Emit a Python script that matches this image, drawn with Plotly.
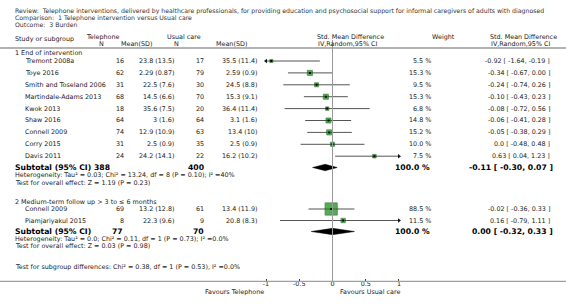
import plotly.graph_objects as go
import math

W, H = 566, 305
FONT = "DejaVu Sans"

# ---------------- data ----------------
g1_label = "1 End of intervention"
g1_studies = ["Tremont 2008a", "Toye 2016", "Smith and Toseland 2006", "Martindale-Adams 2013",
              "Kwok 2013", "Shaw 2016", "Connell 2009", "Corry 2015", "Davis 2011"]
g1_tel_n = [16, 62, 31, 68, 18, 64, 74, 31, 24]
g1_tel_msd = ["23.8 (13.5)", "2.29 (0.87)", "22.5 (7.6)", "14.5 (6.6)", "35.6 (7.5)",
              "3 (1.6)", "12.9 (10.9)", "2.5 (0.9)", "24.2 (14.1)"]
g1_uc_n = [17, 79, 30, 70, 20, 64, 63, 35, 22]
g1_uc_msd = ["35.5 (11.4)", "2.59 (0.9)", "24.5 (8.8)", "15.3 (9.1)", "36.4 (11.4)",
             "3.1 (1.6)", "13.4 (10)", "2.5 (0.9)", "16.2 (10.2)"]
g1_weight = [5.5, 15.3, 9.5, 15.3, 6.8, 14.8, 15.2, 10.0, 7.5]
g1_est = [-0.92, -0.34, -0.24, -0.10, -0.08, -0.06, -0.05, 0.0, 0.63]
g1_lo = [-1.64, -0.67, -0.74, -0.43, -0.72, -0.41, -0.38, -0.48, 0.04]
g1_hi = [-0.19, 0.00, 0.26, 0.23, 0.56, 0.28, 0.29, 0.48, 1.23]
g1_ci_text = ["-0.92 [ -1.64, -0.19 ]", "-0.34 [ -0.67, 0.00 ]", "-0.24 [ -0.74, 0.26 ]",
              "-0.10 [ -0.43, 0.23 ]", "-0.08 [ -0.72, 0.56 ]", "-0.06 [ -0.41, 0.28 ]",
              "-0.05 [ -0.38, 0.29 ]", "0.0 [ -0.48, 0.48 ]", "0.63 [ 0.04, 1.23 ]"]
g1_sub = dict(tel_n=388, uc_n=400, est=-0.11, lo=-0.30, hi=0.07,
              ci_text="-0.11 [ -0.30, 0.07 ]")
g1_het = "Heterogeneity: Tau² = 0.03; Chi² = 13.24, df = 8 (P = 0.10); I² =40%"
g1_overall = "Test for overall effect: Z = 1.19 (P = 0.23)"

g2_label = "2 Medium-term follow up > 3 to ≤ 6 months"
g2_studies = ["Connell 2009", "Piamjariyakul 2015"]
g2_tel_n = [69, 8]
g2_tel_msd = ["13.2 (12.8)", "22.3 (9.6)"]
g2_uc_n = [61, 9]
g2_uc_msd = ["13.4 (11.9)", "20.8 (8.3)"]
g2_weight = [88.5, 11.5]
g2_est = [-0.02, 0.16]
g2_lo = [-0.36, -0.79]
g2_hi = [0.33, 1.11]
g2_ci_text = ["-0.02 [ -0.36, 0.33 ]", "0.16 [ -0.79, 1.11 ]"]
g2_sub = dict(tel_n=77, uc_n=70, est=0.00, lo=-0.32, hi=0.33,
              ci_text="0.00 [ -0.32, 0.33 ]")
g2_het = "Heterogeneity: Tau² = 0.0; Chi² = 0.11, df = 1 (P = 0.73); I² =0.0%"
g2_overall = "Test for overall effect: Z = 0.03 (P = 0.98)"

subgroup_diff = "Test for subgroup differences: Chi² = 0.38, df = 1 (P = 0.53), I² =0.0%"

title_lines = [
    "Review:  Telephone interventions, delivered by healthcare professionals, for providing education and psychosocial support for informal caregivers of adults with diagnosed",
    "Comparison:  1 Telephone intervention versus Usual care",
    "Outcome:  3 Burden",
]
tick_vals = [-1, -0.5, 0, 0.5, 1]
tick_text = ["-1", "-0.5", "0", "0.5", "1"]
favours_left = "Favours Telephone"
favours_right = "Favours Usual care"

# ---------------- layout geometry (pixels) ----------------
X0PX, XSCALE = 332.5, 66.5          # pixel of x=0 and px per unit
XR = 1.05
AX_BOTTOM = 282
g1_rows = [61 + 11.9 * i for i in range(len(g1_studies))]
g1_label_y = 53
g1_sub_y, g1_het_y, g1_ov_y = 167.5, 175, 182.5
g2_label_y = 202
g2_rows = [209, 220.5]
g2_sub_y, g2_het_y, g2_ov_y = 231.5, 239, 246
diff_y = 267
FS = 6.4
TS = 6.2
BS = 7.7

fig = go.Figure()
ann = []
TXT = "#222222"


def text(x, y, s, anchor="left", size=FS, bold=False, color=TXT):
    ann.append(dict(x=x / W, y=1 - y / H, xref="paper", yref="paper",
                    text=("<b>%s</b>" % s) if bold else s,
                    showarrow=False, xanchor=anchor, yanchor="middle",
                    font=dict(family=FONT, size=size, color=color)))


def study_rows(names, tn, tm, un, um, w, est, lo, hi, cit, ys):
    for i, y in enumerate(ys):
        text(23, y, names[i])
        text(126, y, str(tn[i]), "right")
        text(176, y, tm[i], "right")
        text(206, y, str(un[i]), "right")
        text(259, y, um[i], "right")
        text(433, y, "%.1f %%" % w[i], "right")
        text(552, y, cit[i], "right")
        l = max(lo[i], -1.0)
        h = min(hi[i], 1.0)
        fig.add_trace(go.Scatter(x=[l, h], y=[y, y], mode="lines",
                                 line=dict(color="#555555", width=1), hoverinfo="skip"))
        if lo[i] < -1.0:
            fig.add_trace(go.Scatter(x=[-1.0], y=[y], mode="markers",
                                     marker=dict(symbol="triangle-left", size=4, color="#111"),
                                     hoverinfo="skip"))
        if hi[i] > 1.0:
            fig.add_trace(go.Scatter(x=[1.0], y=[y], mode="markers",
                                     marker=dict(symbol="triangle-right", size=4, color="#111"),
                                     hoverinfo="skip"))
    sizes = [max(3.0, 1.3 * math.sqrt(v)) for v in w]
    fig.add_trace(go.Scatter(x=est, y=ys, mode="markers",
                             marker=dict(symbol="square", size=sizes, color="#0a8a0a",
                                         line=dict(color="#005500", width=0.8)),
                             hoverinfo="skip"))
    fig.add_trace(go.Scatter(x=est, y=ys, mode="markers",
                             marker=dict(symbol="square", size=2, color="#000000"),
                             hoverinfo="skip"))


def subtotal(sub, y, tn_x, un_x):
    text(13, y, "Subtotal (95% CI)", size=BS, bold=True, color="#000")
    text(tn_x, y, str(sub["tel_n"]), "right", size=BS, bold=True, color="#000")
    text(un_x, y, str(sub["uc_n"]), "right", size=BS, bold=True, color="#000")
    text(432, y, "100.0 %", "right", size=BS, bold=True, color="#000")
    text(555, y, sub["ci_text"], "right", size=BS, bold=True, color="#000")
    fig.add_trace(go.Scatter(x=[sub["lo"], sub["est"], sub["hi"], sub["est"], sub["lo"]],
                             y=[y, y - 3.2, y, y + 3.2, y], mode="lines", fill="toself",
                             fillcolor="#000000", line=dict(color="#000000", width=0.5),
                             hoverinfo="skip"))


# header text
for i, s in enumerate(title_lines):
    text(13, 11.5 + 6.6 * i, s, size=TS, color="#333")
text(13, 39, "Study or subgroup")
text(103, 37, "Telephone", "center")
text(101, 44, "N", "center")
text(136, 44, "Mean(SD)", "center")
text(184, 37, "Usual care", "center")
text(176, 44, "N", "center")
text(231, 44, "Mean(SD)", "center")
text(315, 37, "Std. Mean Difference", "left")
text(316, 44, "IV,Random,95% CI", "left")
text(443, 37, "Weight", "center")
text(488, 37, "Std. Mean Difference", "left")
text(489, 44, "IV,Random,95% CI", "left")

# group 1
text(13, g1_label_y, g1_label)
study_rows(g1_studies, g1_tel_n, g1_tel_msd, g1_uc_n, g1_uc_msd, g1_weight,
           g1_est, g1_lo, g1_hi, g1_ci_text, g1_rows)
subtotal(g1_sub, g1_sub_y, 112, 206)
text(13, g1_het_y, g1_het)
text(13, g1_ov_y, g1_overall)

# group 2
text(13, g2_label_y, g2_label)
study_rows(g2_studies, g2_tel_n, g2_tel_msd, g2_uc_n, g2_uc_msd, g2_weight,
           g2_est, g2_lo, g2_hi, g2_ci_text, g2_rows)
subtotal(g2_sub, g2_sub_y, 125, 206)
text(13, g2_het_y, g2_het)
text(13, g2_ov_y, g2_overall)

text(13, diff_y, subgroup_diff)

# favours labels
text(X0PX - XSCALE, 292, favours_left, "right")
text(338, 292, favours_right, "left")

shapes = [
    # header rule
    dict(type="line", xref="paper", yref="y", x0=0, x1=1, y0=48, y1=48,
         line=dict(color="#9a9a9a", width=1.5)),
    # bottom axis rule
    dict(type="line", xref="paper", yref="y", x0=0, x1=1, y0=AX_BOTTOM, y1=AX_BOTTOM,
         line=dict(color="#a0a0a0", width=2.5)),
    # zero line
    dict(type="line", xref="x", yref="y", x0=0, x1=0, y0=40, y1=AX_BOTTOM,
         line=dict(color="#999999", width=1)),
]

dom0 = (X0PX - XSCALE * XR) / W
dom1 = (X0PX + XSCALE * XR) / W
fig.update_layout(
    width=W, height=H, margin=dict(l=0, r=0, t=0, b=0),
    paper_bgcolor="white", plot_bgcolor="rgba(0,0,0,0)",
    showlegend=False, annotations=ann, shapes=shapes,
    xaxis=dict(domain=[dom0, dom1], range=[-XR, XR], showgrid=False, zeroline=False,
               showline=False, tickvals=tick_vals, ticktext=tick_text, ticks="inside",
               ticklen=3, tickcolor="#333", tickfont=dict(family=FONT, size=FS, color=TXT),
               ticklabelstandoff=-3, fixedrange=True),
    yaxis=dict(domain=[(H - AX_BOTTOM) / H, 1], range=[AX_BOTTOM, 0], visible=False,
               fixedrange=True),
)

fig.write_html("out.html", config={"displayModeBar": False},
               post_script="document.body.style.margin='0';document.body.style.overflow='hidden';")
